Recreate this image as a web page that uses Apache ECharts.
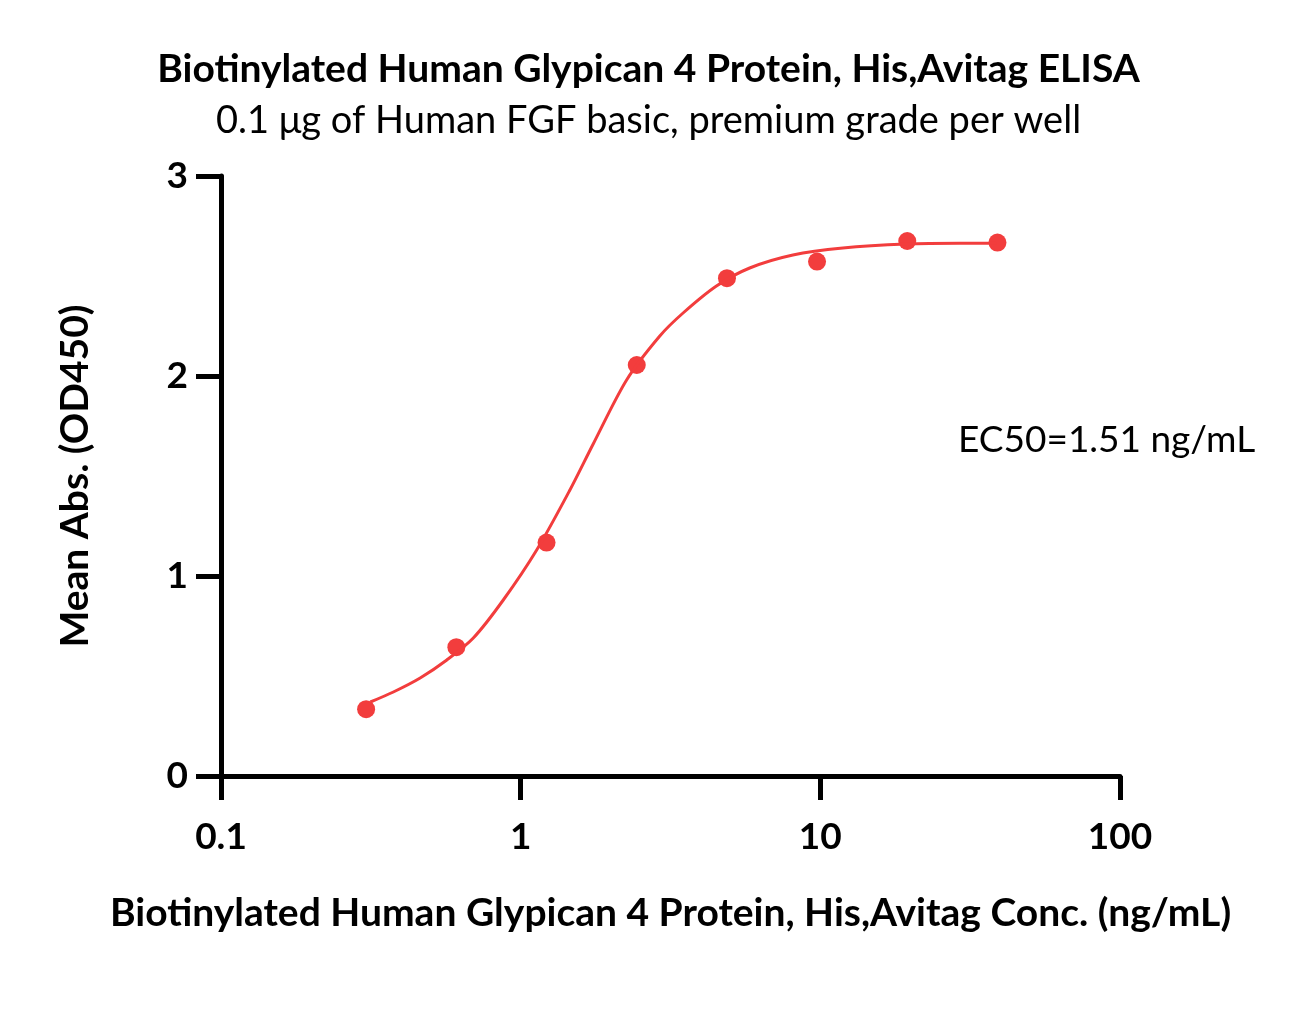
<!DOCTYPE html>
<html>
<head>
<meta charset="utf-8">
<script src="https://cdn.jsdelivr.net/npm/echarts@6/dist/echarts.min.js"></script>
<style>
  html, body { margin: 0; padding: 0; background: #fff; }
  #chart { width: 1297px; height: 1032px; }
</style>
</head>
<body>
<div id="chart"></div>
<script>
// measured points (ng/mL, OD450)
var concs = [0.305, 0.61, 1.22, 2.44, 4.88, 9.75, 19.5, 39];
var absVals = [0.334, 0.644, 1.167, 2.055, 2.489, 2.572, 2.675, 2.667];

// fitted curve
var fitX = [0.315, 0.376, 0.462, 0.567, 0.695, 0.875, 1.131, 1.46, 1.746, 2.257, 2.913, 3.483, 4.501, 5.811, 8.1, 11.89, 19.35, 29.13, 38.6];
var fitY = [0.37, 0.42, 0.49, 0.58, 0.69, 0.88, 1.13, 1.43, 1.66, 1.98, 2.20, 2.315, 2.45, 2.54, 2.605, 2.64, 2.66, 2.664, 2.664];

var xTicks = [0.1, 1, 10, 100];
var yTicks = [0, 1, 2, 3];

var FONT = 'Lato';
var RED = '#F23D3D';

var chart = echarts.init(document.getElementById('chart'));

var pointData = concs.map(function (c, i) { return [c, absVals[i]]; });
var curveData = fitX.map(function (c, i) { return [c, fitY[i]]; });

var option = {
    backgroundColor: '#fff',
    animation: false,
    title: [
        {
            text: 'Biotinylated Human Glypican 4 Protein, His,Avitag ELISA',
            left: 'center',
            top: 45,
            textStyle: { fontFamily: FONT, fontSize: 39, fontWeight: 'bold', color: '#000' }
        },
        {
            text: '0.1 μg of Human FGF basic, premium grade per well',
            left: 'center',
            top: 97,
            textStyle: { fontFamily: FONT, fontSize: 38, fontWeight: 'normal', color: '#000' }
        }
    ],
    grid: { left: 221, right: 177, top: 176, bottom: 256 },
    xAxis: {
        type: 'log',
        logBase: 10,
        min: xTicks[0],
        max: xTicks[xTicks.length - 1],
        name: 'Biotinylated Human Glypican 4 Protein, His,Avitag Conc. (ng/mL)',
        nameLocation: 'middle',
        nameGap: 118,
        nameTextStyle: { fontFamily: FONT, fontSize: 39, fontWeight: 'bold', color: '#000' },
        axisLine: { lineStyle: { color: '#000', width: 5 } },
        axisTick: { length: 24, lineStyle: { color: '#000', width: 5 } },
        axisLabel: {
            margin: 43,
            fontFamily: FONT, fontSize: 37, fontWeight: 'bold', color: '#000',
            formatter: function (v) { return xTicks.indexOf(+v) >= 0 ? String(+v) : ''; }
        },
        splitLine: { show: false },
        minorTick: { show: false }
    },
    yAxis: {
        type: 'value',
        min: yTicks[0],
        max: yTicks[yTicks.length - 1],
        interval: 1,
        name: 'Mean Abs. (OD450)',
        nameLocation: 'middle',
        nameGap: 126,
        nameRotate: 90,
        nameTextStyle: { fontFamily: FONT, fontSize: 39, fontWeight: 'bold', color: '#000' },
        axisLine: { show: true, lineStyle: { color: '#000', width: 5 } },
        axisTick: { show: true, length: 25, lineStyle: { color: '#000', width: 5 } },
        axisLabel: { margin: 33, fontFamily: FONT, fontSize: 37, fontWeight: 'bold', color: '#000' },
        splitLine: { show: false }
    },
    graphic: [
        {
            type: 'text',
            left: 958,
            top: 422,
            style: { text: 'EC50=1.51 ng/mL', font: 'normal 37px ' + FONT, fill: '#000' }
        }
    ],
    series: [
        {
            type: 'line',
            data: curveData,
            smooth: 0.3,
            showSymbol: false,
            lineStyle: { color: RED, width: 3 },
            silent: true
        },
        {
            type: 'scatter',
            data: pointData,
            symbol: 'circle',
            symbolSize: 18,
            itemStyle: { color: RED, opacity: 1 }
        }
    ]
};

chart.setOption(option);
</script>
</body>
</html>
